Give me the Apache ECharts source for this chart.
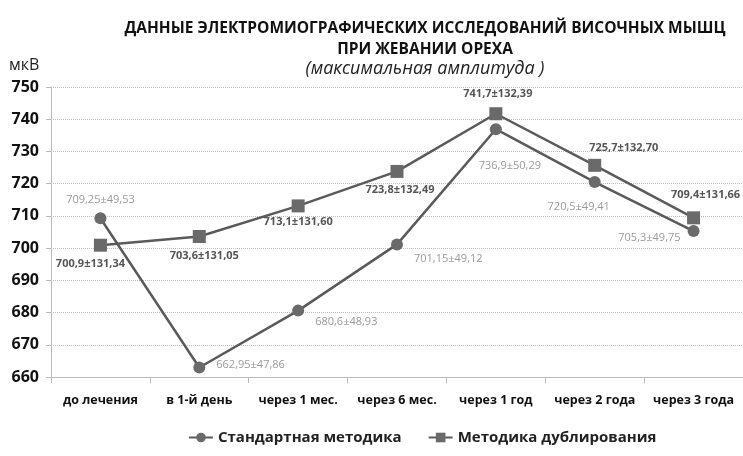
<!DOCTYPE html>
<html>
<head>
<meta charset="utf-8">
<script src="https://cdn.jsdelivr.net/npm/echarts@6/dist/echarts.min.js"></script>
<style>
html, body { margin: 0; padding: 0; background: #fff; }
#main { width: 743px; height: 456px; }
</style>
</head>
<body>
<div id="main"></div>
<script>
var categories = ['до лечения', 'в 1-й день', 'через 1 мес.', 'через 6 мес.', 'через 1 год', 'через 2 года', 'через 3 года'];
var standardMean = [709.25, 662.95, 680.6, 701.15, 736.9, 720.5, 705.3];
var standardSd = [49.53, 47.86, 48.93, 49.12, 50.29, 49.41, 49.75];
var dublMean = [700.9, 703.6, 713.1, 723.8, 741.7, 725.7, 709.4];
var dublSd = [131.34, 131.05, 131.60, 132.49, 132.39, 132.70, 131.66];

var chartDom = document.getElementById('main');
var myChart = echarts.init(chartDom);
var font = '"Open Sans", sans-serif';

// where each label sits relative to its point
var stdPlace = [
    ['top', [0, -2]], ['right', [6, -3]], ['right', [6, 11]], ['right', [6, 14]],
    ['bottom', [14, 20]], ['bottom', [-16, 8]], ['left', [-2, 7]]
];
var dublPlace = [
    ['bottom', [-10, 2]], ['bottom', [5, 2]], ['bottom', [0, -1]], ['bottom', [3, 1]],
    ['top', [2, -3]], ['top', [29, 0]], ['top', [12, -6]]
];

function fmt(v) { return String(v).replace('.', ','); }

function buildData(mean, sd, place, color, weight) {
    return mean.map(function (v, i) {
        return {
            value: v,
            label: {
                show: true,
                position: place[i][0],
                offset: place[i][1],
                formatter: fmt(v) + '±' + sd[i].toFixed(2).replace('.', ','),
                color: color,
                fontWeight: weight,
                fontSize: 11,
                fontFamily: font
            }
        };
    });
}

var option = {
    animation: false,
    backgroundColor: '#fff',
    title: [
        {
            text: 'ДАННЫЕ ЭЛЕКТРОМИОГРАФИЧЕСКИХ ИССЛЕДОВАНИЙ ВИСОЧНЫХ МЫШЦ\nПРИ ЖЕВАНИИ ОРЕХА',
            left: 420, top: 13, textAlign: 'center',
            textStyle: { fontFamily: font, fontSize: 15.5, fontWeight: 'bold', color: '#111', lineHeight: 21 }
        },
        {
            text: '(максимальная амплитуда )',
            left: 420, top: 55, textAlign: 'center',
            textStyle: { fontFamily: font, fontSize: 18, fontStyle: 'italic', fontWeight: 'normal', color: '#222' }
        },
        {
            text: 'мкВ',
            left: 4, top: 52,
            textStyle: { fontFamily: font, fontSize: 16, fontWeight: 'normal', color: '#222' }
        }
    ],
    legend: {
        bottom: 6,
        left: 183,
        itemWidth: 24,
        itemHeight: 12,
        itemGap: 26,
        textStyle: { fontFamily: font, fontSize: 15, fontWeight: 'bold', color: '#222' },
        data: ['Стандартная методика', 'Методика дублирования']
    },
    grid: { left: 51, right: 0, top: 87, bottom: 79 },
    xAxis: {
        type: 'category',
        data: categories,
        boundaryGap: true,
        axisLine: { lineStyle: { color: '#bbb' } },
        axisTick: { show: true, length: 6, lineStyle: { color: '#bbb' } },
        axisLabel: { interval: 0, margin: 17, fontFamily: font, fontSize: 12.5, fontWeight: 'bold', color: '#111' }
    },
    yAxis: {
        type: 'value',
        min: 660,
        max: 750,
        interval: 10,
        axisLine: { show: true, lineStyle: { color: '#bbb' } },
        axisTick: { show: true, length: 5, lineStyle: { color: '#bbb' } },
        axisLabel: { margin: 12, fontFamily: font, fontSize: 16, fontWeight: 'bold', color: '#111' },
        splitLine: { lineStyle: { color: '#bdbdbd', type: 'dotted' } }
    },
    series: [
        {
            name: 'Стандартная методика',
            type: 'line',
            symbol: 'circle',
            symbolSize: 12,
            lineStyle: { color: '#5a5a5a', width: 2.5 },
            itemStyle: { color: '#6a6a6a' },
            data: buildData(standardMean, standardSd, stdPlace, '#9a9a9a', 'normal')
        },
        {
            name: 'Методика дублирования',
            type: 'line',
            symbol: 'rect',
            symbolSize: 13,
            lineStyle: { color: '#5a5a5a', width: 2.5 },
            itemStyle: { color: '#6a6a6a' },
            data: buildData(dublMean, dublSd, dublPlace, '#555', 'bold')
        }
    ]
};

option && myChart.setOption(option);
</script>
</body>
</html>
